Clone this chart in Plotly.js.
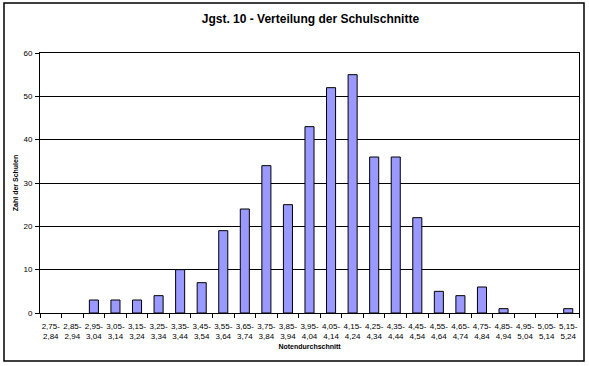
<!DOCTYPE html>
<html>
<head>
<meta charset="utf-8">
<script src="https://cdn.plot.ly/plotly-3.0.1.min.js"></script>
<style>html,body{margin:0;padding:0;background:#fff;}#chart{width:589px;height:366px;}</style>
</head>
<body>
<div id="chart"></div>
<script>
const categories = ["2,75-<br>2,84","2,85-<br>2,94","2,95-<br>3,04","3,05-<br>3,14","3,15-<br>3,24","3,25-<br>3,34","3,35-<br>3,44","3,45-<br>3,54","3,55-<br>3,64","3,65-<br>3,74","3,75-<br>3,84","3,85-<br>3,94","3,95-<br>4,04","4,05-<br>4,14","4,15-<br>4,24","4,25-<br>4,34","4,35-<br>4,44","4,45-<br>4,54","4,55-<br>4,64","4,65-<br>4,74","4,75-<br>4,84","4,85-<br>4,94","4,95-<br>5,04","5,05-<br>5,14","5,15-<br>5,24"];
const schools = [0,0,3,3,3,4,10,7,19,24,34,25,43,52,55,36,36,22,5,4,6,1,0,0,1];
const yTicks = [0,10,20,30,40,50,60];

const font = "Liberation Sans, Arial, sans-serif";
Plotly.newPlot("chart", [{
  type: "bar",
  x: categories,
  y: schools,
  marker: {color: "#9999FF", line: {color: "#000", width: schools.map(v => v > 0 ? 1 : 0)}},
  hoverinfo: "none"
}], {
  width: 589, height: 366,
  margin: {l: 40, r: 10, t: 53, b: 53},
  paper_bgcolor: "#fff", plot_bgcolor: "#fff",
  bargap: 0.58,
  showlegend: false,
  font: {family: font, size: 8, color: "#000"},
  title: {text: "Jgst. 10 - Verteilung der Schulschnitte", font: {family: font, size: 12, color: "#000", weight: "bold"}, x: 0.527, xanchor: "center", y: 0.95, yanchor: "middle"},
  xaxis: {
    type: "category",
    showline: true, linecolor: "#000", linewidth: 1, mirror: true,
    ticks: "outside", ticklen: 4, tickcolor: "#000", tickson: "boundaries",
    tickangle: 0, ticklabelstandoff: 5,
    tickfont: {family: font, size: 8, color: "#000"},
    showgrid: false,
    title: {text: "Notendurchschnitt", font: {family: font, size: 7, color: "#000", weight: "bold"}, standoff: 4}
  },
  yaxis: {
    range: [0, 60], tickvals: yTicks,
    showline: true, linecolor: "#000", linewidth: 1, mirror: true,
    ticks: "outside", ticklen: 4, tickcolor: "#000",
    showgrid: true, gridcolor: "#000", gridwidth: 1,
    zeroline: false, ticklabelstandoff: 1,
    tickfont: {family: font, size: 8, color: "#000"},
    title: {text: "Zahl der Schulen", font: {family: font, size: 7, color: "#000", weight: "bold"}, standoff: 4}
  },
  shapes: [{
    type: "rect", xref: "paper", yref: "paper",
    x0: (4-40)/539, x1: (584-40)/539, y0: (313-361)/260, y1: (313-3)/260,
    line: {color: "#000", width: 1.5}, fillcolor: "rgba(0,0,0,0)", layer: "above"
  }]
}, {staticPlot: true, displayModeBar: false});
</script>
</body>
</html>
